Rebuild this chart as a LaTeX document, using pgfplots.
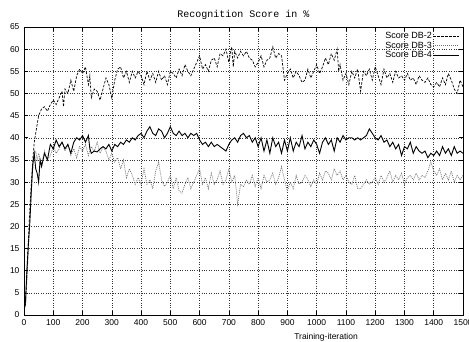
\documentclass[border=0pt]{standalone}
\usepackage{fontspec}
\setmainfont{Liberation Sans}
\newfontfamily\monofont{Liberation Mono}
\usepackage{pgfplots}
\pgfplotsset{compat=1.18}
\usepackage{pgfplotstable}

\pgfplotstableread{
x y
5 2
10 10
15 17
20 24
25 30
30 35
35 39
40 41
45 43
50 45
60 46.5
70 47
80 46
90 47.5
100 48.5
110 47.5
120 49
130 50.5
135 47
140 51
150 50
160 53
170 50.5
180 54
190 55.5
200 54.5
210 56
220 52
225 54
230 49
240 51
250 50.5
260 48.5
270 51
280 53.5
290 52
300 49
310 53
320 55.5
330 56
340 53.5
350 55
360 52.5
370 55
380 53.5
390 55
400 54
410 52
420 55
430 53
440 54.5
450 52.5
460 55
470 53
480 54
490 52
500 55
510 54.5
520 53.5
530 55.5
540 54
550 56.5
560 55
570 54
580 55.5
590 57
600 58.5
610 55.5
620 56.5
630 55
640 57.5
650 58
660 56
670 59
680 58.5
690 60
700 57
705 59
710 60.5
715 56
720 59.5
730 58
740 59.5
750 58.5
760 59.5
770 58
780 57.5
790 56
800 57
810 58.5
820 56
830 57.5
840 58
850 60.5
860 58
870 59
880 58.5
890 53
900 54.5
910 55.5
920 53.5
930 55
940 54
950 52.5
960 53
970 55.5
980 53.5
990 55
1000 56.5
1010 54.5
1020 56
1030 58
1040 56.5
1050 59
1060 57.5
1070 60
1075 55
1080 56.5
1090 53
1100 54.5
1110 52
1120 55
1130 53.5
1140 55.5
1150 50.5
1160 55
1170 54
1180 55.5
1190 53
1200 56
1210 54
1220 52
1230 55.5
1240 53.5
1250 54.5
1260 52.5
1270 55
1280 53.5
1290 54
1300 53
1310 54.5
1320 53
1330 53.5
1340 52
1350 54
1360 53
1370 52.5
1380 53.5
1390 52
1400 51.5
1410 52.5
1420 51.5
1430 53.5
1440 52
1450 54.5
1460 53
1470 51
1480 50
1490 53
1500 51.5
}\dbtwo

\pgfplotstableread{
x y
5 2
10 8
15 15
20 22
25 28
30 33
35 36
40 37
45 35
50 36.5
60 34
70 37
80 35
90 36
100 38
110 36.5
120 37.5
130 39
140 37
150 38.5
160 36
170 37.5
180 35.5
190 38
200 37
210 38.5
220 36
230 38
240 37
250 39
260 36.5
270 38
280 37
290 35
300 36.5
310 34.5
320 35.5
330 33
340 35
350 31
360 33
370 31.5
380 29.5
390 31
400 29.5
410 33
420 29.5
430 30.5
440 28.5
450 32.5
460 34.5
470 30.5
480 29
490 30
500 31.5
510 28.5
520 31
530 28
540 27.5
550 29.5
560 31
570 28.5
580 30
590 31.5
600 33
610 29.5
620 31
630 28.5
640 32
650 29.5
660 30.5
670 32.5
680 29.5
690 30.5
700 33
710 30
720 31.5
730 25
740 29.5
750 29
760 30.5
770 29.5
780 31.5
790 29
800 31
810 28.5
820 31.5
830 30
840 30.5
850 32
860 29.5
870 31
880 33.5
890 30.5
900 28
910 30
920 28.5
930 31.5
940 29.5
950 30
960 31.5
970 30.5
980 29
990 30.5
1000 29.5
1010 32
1020 30.5
1030 32.5
1040 32
1050 30.5
1060 33
1070 31.5
1080 32.5
1090 30.5
1100 31.5
1110 30
1120 29.5
1130 31.5
1140 28.5
1150 28.5
1160 29.5
1170 30.5
1180 29.5
1190 30
1200 31
1210 29.5
1220 31.5
1230 30
1240 31
1250 32.5
1260 30
1270 31.5
1280 30.5
1290 32
1300 29.5
1310 31
1320 31.5
1330 30.5
1340 32
1350 30.5
1360 31.5
1370 31
1380 32.5
1390 34.5
1400 32.5
1410 31.5
1420 33
1430 30.5
1440 32
1450 30.5
1460 32.5
1470 30
1480 31.5
1490 30.5
1500 31.5
}\dbthree

\pgfplotstableread{
x y
3 1.8
5 3
10 10
15 16
20 21
25 28
30 34
35 36.5
40 33
45 32
50 30
55 35
60 33.5
70 36.5
80 35
90 38.5
100 37.5
110 39.5
120 38
130 39
140 37.5
150 38.5
160 36.5
170 39
180 40
190 39.5
200 40.5
210 39
220 40.5
225 37.5
230 36.5
240 37
250 36.8
260 37.5
270 38
280 37.5
290 38.5
300 37
310 38.5
320 38
330 39
340 38.5
350 39.5
360 39
370 40
380 39.5
390 40.5
400 41
410 40
420 41.5
430 42.5
440 41
450 40.5
460 42
470 41.5
480 40
490 41
500 42.5
510 41
520 40.5
530 41.5
540 40.5
550 41
560 40
570 41
580 40.5
590 41
600 39.5
610 38.5
620 39
630 38
640 39
650 38
660 38.5
670 38
680 37.5
690 37
700 38.5
710 39.5
720 40
730 39
740 40.5
750 41
760 40
770 40.5
780 39
790 40
800 38
810 40
820 37
830 39.5
840 36.5
850 40
860 38
870 39
880 36.5
890 39.5
900 37
910 40
920 37
930 39
940 38
950 40.5
960 37.5
970 39
980 38
990 39.5
1000 38.5
1010 36.5
1020 39
1030 40
1040 38.5
1050 39.5
1060 37
1070 40
1080 39
1090 40.5
1100 39.5
1110 40
1120 40
1130 39.5
1140 40
1150 39.5
1160 40
1170 40.5
1180 42
1190 41
1200 40
1210 39.5
1220 40.5
1230 39
1240 39.5
1250 38
1260 39
1270 37.5
1280 38.5
1290 36
1300 38
1310 37.5
1320 39
1330 36.5
1340 38
1350 37
1360 36.5
1370 37
1380 35.5
1390 36.5
1400 36
1410 37
1420 36
1430 38
1440 36.5
1450 37.5
1460 36
1470 38
1480 36.5
1490 37
1500 36.5
}\dbfour

\begin{document}
\begin{tikzpicture}
\begin{axis}[
  at={(24pt,27pt)}, anchor=south west,
  scale only axis,
  width=439pt, height=288pt,
  xmin=0, xmax=1500, ymin=0, ymax=65,
  xtick={0,100,...,1500},
  ytick={0,5,...,65},
  tick align=inside,
  major tick length=4pt,
  tick style={black, line width=0.6pt},
  axis line style={line width=0.9pt},
  grid=major,
  major grid style={dotted, black!80, line width=0.5pt},
  tick label style={font=\fontsize{8.5}{9}\selectfont},
  /pgf/number format/assume math mode=true,
  /pgf/number format/1000 sep={},
  xticklabel style={yshift=-1pt},
  yticklabel style={xshift=-1pt},
  title={\monofont Recognition Score in \%},
  title style={font=\fontsize{10}{11}\selectfont, at={(axis description cs:0.5,1)}, anchor=south, yshift=-2pt},
  xlabel={Training-iteration},
  xlabel style={font=\fontsize{8.5}{9}\selectfont, at={(axis description cs:0.688,0)}, anchor=north, yshift=-15pt},
  legend style={draw=none, fill=none, at={(axis description cs:0.995,0.988)}, anchor=north east,
    font=\fontsize{9}{8}\selectfont, row sep=0pt, inner sep=1pt,
    nodes={inner sep=0.8pt}},
  legend cell align=right,
  legend plot pos=right,
  legend image code/.code={\draw[#1] (0pt,0pt) -- (26pt,0pt);},
]
\addplot[black, line width=0.7pt, dash pattern=on 2.5pt off 1.5pt] table {\dbtwo};
\addlegendentry{Score DB-2}
\addplot[black!55, line width=0.7pt, dash pattern=on 1pt off 1pt] table {\dbthree};
\addlegendentry{Score DB-3}
\addplot[black, line width=0.9pt] table {\dbfour};
\addlegendentry{Score DB-4}
\end{axis}
\pgfresetboundingbox
\path (0,0) rectangle (469pt,342pt);
\end{tikzpicture}
\end{document}
